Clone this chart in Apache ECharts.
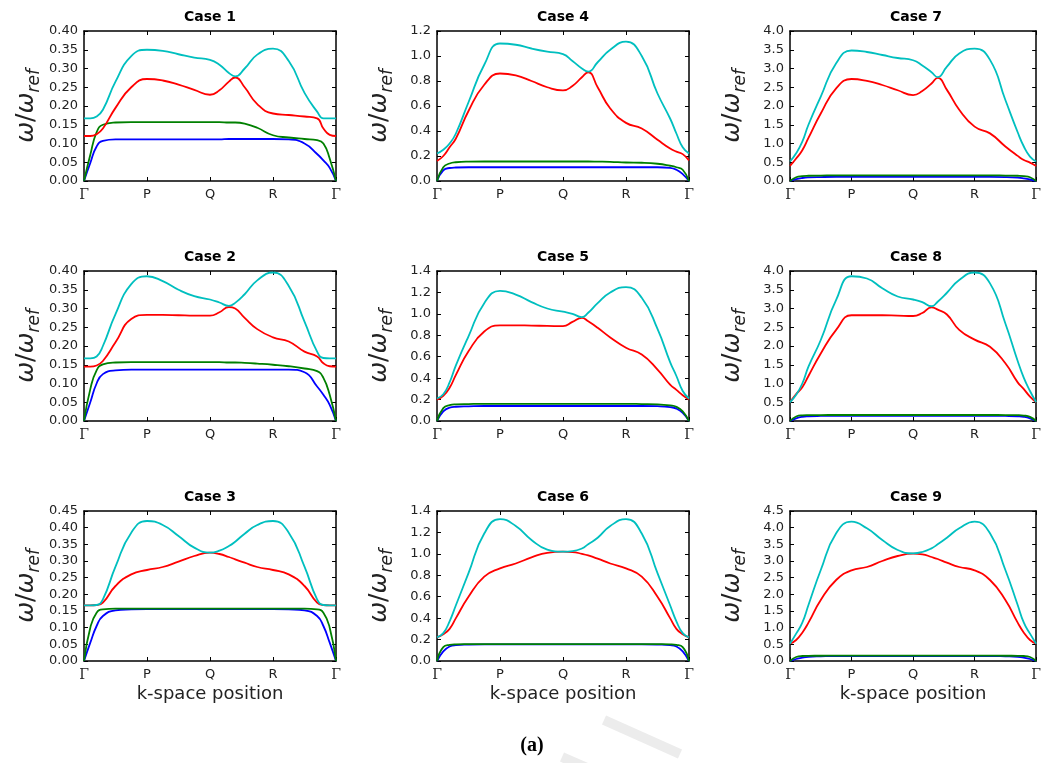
<!DOCTYPE html>
<html><head><meta charset="utf-8">
<script src="https://cdn.jsdelivr.net/npm/echarts@6/dist/echarts.min.js"></script>
<style>html,body{margin:0;padding:0;background:#fff}#chart{width:1044px;height:763px}</style>
</head><body><div id="chart"></div><script>
// ---- data ----
const K_TICKS = ['Γ', 'P', 'Q', 'R', 'Γ'];
const K_POS = [0, 0.1, 0.2, 0.3, 0.5, 0.75, 1.0, 1.25, 1.5, 1.75, 2.0, 2.15, 2.3, 2.4, 2.55, 2.75, 3.0, 3.25, 3.5, 3.7, 3.8, 3.9, 4.0];
const CASE_TITLES = ['Case 1','Case 2','Case 3','Case 4','Case 5','Case 6','Case 7','Case 8','Case 9'];
const Y_MAX = [0.4, 0.4, 0.45, 1.2, 1.4, 1.4, 4.0, 4.0, 4.5];
const Y_STEP = [0.05, 0.05, 0.05, 0.2, 0.2, 0.2, 0.5, 0.5, 0.5];
const Y_DEC = [2, 2, 2, 1, 1, 1, 1, 1, 1];
const X_NAME = 'k-space position';
const CAPTION = '(a)';

const c1Blue  = [0,0.048,0.092,0.107,0.111,0.111,0.111,0.111,0.111,0.111,0.111,0.111,0.112,0.112,0.112,0.112,0.112,0.111,0.1,0.072,0.055,0.035,0];
const c1Green = [0,0.07,0.13,0.15,0.156,0.157,0.157,0.157,0.157,0.157,0.157,0.157,0.156,0.156,0.153,0.142,0.122,0.116,0.112,0.109,0.1,0.06,0];
const c1Red   = [0.12,0.12,0.125,0.14,0.195,0.25,0.272,0.268,0.257,0.243,0.23,0.242,0.265,0.276,0.25,0.205,0.18,0.176,0.172,0.167,0.14,0.123,0.12];
const c1Cyan  = [0.167,0.167,0.172,0.19,0.265,0.333,0.35,0.347,0.338,0.329,0.323,0.31,0.288,0.279,0.3,0.337,0.353,0.32,0.235,0.185,0.167,0.167,0.167];

const c2Blue  = [0,0.05,0.1,0.125,0.135,0.137,0.137,0.137,0.137,0.137,0.137,0.137,0.137,0.137,0.137,0.137,0.137,0.137,0.13,0.092,0.07,0.043,0];
const c2Green = [0,0.085,0.135,0.151,0.156,0.157,0.157,0.157,0.157,0.157,0.157,0.157,0.156,0.156,0.155,0.153,0.15,0.146,0.14,0.133,0.115,0.07,0];
const c2Red   = [0.145,0.145,0.148,0.16,0.21,0.272,0.283,0.283,0.282,0.281,0.281,0.29,0.304,0.3,0.275,0.245,0.223,0.212,0.185,0.172,0.154,0.146,0.145];
const c2Cyan  = [0.167,0.167,0.172,0.2,0.285,0.365,0.386,0.373,0.35,0.333,0.324,0.316,0.307,0.315,0.338,0.375,0.396,0.36,0.265,0.185,0.168,0.167,0.167];

const c3Blue  = [0,0.055,0.105,0.135,0.152,0.155,0.156,0.156,0.156,0.156,0.156,0.156,0.156,0.156,0.156,0.156,0.156,0.155,0.152,0.135,0.105,0.055,0];
const c3Green = [0,0.1,0.145,0.155,0.157,0.157,0.157,0.157,0.157,0.157,0.157,0.157,0.157,0.157,0.157,0.157,0.157,0.157,0.157,0.155,0.145,0.1,0];
const c3Red   = [0.167,0.167,0.168,0.175,0.225,0.26,0.273,0.282,0.298,0.315,0.325,0.321,0.312,0.305,0.295,0.282,0.273,0.26,0.225,0.175,0.168,0.167,0.167];
const c3Cyan  = [0.167,0.167,0.168,0.185,0.283,0.385,0.42,0.408,0.375,0.34,0.325,0.331,0.345,0.358,0.382,0.408,0.42,0.385,0.283,0.185,0.168,0.167,0.167];

const c4Blue  = [0,0.085,0.104,0.108,0.11,0.11,0.11,0.11,0.11,0.11,0.11,0.11,0.11,0.11,0.11,0.11,0.11,0.11,0.11,0.105,0.09,0.055,0];
const c4Green = [0,0.11,0.14,0.15,0.155,0.156,0.156,0.156,0.156,0.156,0.156,0.156,0.156,0.156,0.155,0.153,0.148,0.146,0.138,0.122,0.11,0.09,0];
const c4Red   = [0.16,0.2,0.27,0.34,0.56,0.77,0.86,0.845,0.8,0.75,0.725,0.76,0.83,0.87,0.75,0.58,0.465,0.42,0.33,0.26,0.235,0.215,0.165];
const c4Cyan  = [0.22,0.25,0.3,0.38,0.63,0.93,1.1,1.09,1.06,1.035,1.015,0.96,0.9,0.875,0.95,1.05,1.115,1.0,0.7,0.5,0.38,0.27,0.22];

const c5Blue  = [0,0.09,0.125,0.133,0.137,0.14,0.14,0.14,0.14,0.14,0.14,0.14,0.14,0.14,0.14,0.14,0.14,0.14,0.138,0.13,0.115,0.075,0];
const c5Green = [0,0.12,0.148,0.155,0.158,0.16,0.16,0.16,0.16,0.16,0.16,0.16,0.16,0.16,0.16,0.16,0.16,0.158,0.155,0.145,0.132,0.09,0];
const c5Red   = [0.2,0.235,0.31,0.43,0.65,0.835,0.893,0.893,0.89,0.888,0.885,0.925,0.963,0.93,0.87,0.78,0.684,0.62,0.48,0.34,0.29,0.24,0.2];
const c5Cyan  = [0.21,0.25,0.36,0.52,0.79,1.1,1.215,1.18,1.11,1.05,1.02,1.0,0.97,1.01,1.1,1.2,1.25,1.15,0.86,0.55,0.42,0.28,0.21];

const c6Blue  = [0,0.09,0.135,0.148,0.153,0.155,0.155,0.155,0.155,0.155,0.155,0.155,0.155,0.155,0.155,0.155,0.155,0.155,0.153,0.148,0.135,0.09,0];
const c6Green = [0,0.13,0.15,0.155,0.157,0.158,0.158,0.158,0.158,0.158,0.158,0.158,0.158,0.158,0.158,0.158,0.158,0.158,0.157,0.155,0.15,0.13,0];
const c6Red   = [0.22,0.25,0.3,0.4,0.6,0.787,0.865,0.91,0.967,1.01,1.02,1.017,1.0,0.985,0.955,0.91,0.865,0.787,0.6,0.4,0.3,0.25,0.22];
const c6Cyan  = [0.22,0.26,0.37,0.52,0.82,1.19,1.325,1.26,1.13,1.04,1.02,1.025,1.05,1.09,1.15,1.26,1.325,1.19,0.82,0.52,0.37,0.26,0.22];

const c7Blue  = [0,0.05,0.08,0.095,0.105,0.11,0.11,0.11,0.11,0.11,0.11,0.11,0.11,0.11,0.11,0.11,0.11,0.11,0.105,0.09,0.07,0.04,0];
const c7Green = [0,0.1,0.13,0.14,0.145,0.15,0.15,0.15,0.15,0.15,0.15,0.15,0.15,0.15,0.15,0.15,0.15,0.15,0.145,0.14,0.13,0.1,0];
const c7Red   = [0.4,0.6,0.82,1.15,1.8,2.47,2.72,2.67,2.56,2.42,2.29,2.4,2.6,2.75,2.43,1.9,1.45,1.27,0.92,0.67,0.56,0.49,0.4];
const c7Cyan  = [0.52,0.74,1.05,1.5,2.25,3.14,3.48,3.44,3.36,3.28,3.22,3.08,2.9,2.77,3.05,3.4,3.53,3.23,2.16,1.3,0.92,0.65,0.52];

const c8Blue  = [0,0.07,0.11,0.125,0.135,0.14,0.14,0.14,0.14,0.14,0.14,0.14,0.14,0.14,0.14,0.14,0.14,0.14,0.135,0.125,0.11,0.07,0];
const c8Green = [0,0.12,0.15,0.155,0.158,0.16,0.16,0.16,0.16,0.16,0.16,0.16,0.16,0.16,0.16,0.16,0.16,0.16,0.158,0.155,0.145,0.11,0];
const c8Red   = [0.5,0.72,0.9,1.2,1.8,2.43,2.82,2.82,2.82,2.81,2.8,2.88,3.03,2.97,2.84,2.43,2.17,1.98,1.54,1.03,0.85,0.65,0.5];
const c8Cyan  = [0.5,0.7,1.0,1.45,2.16,3.23,3.86,3.8,3.54,3.32,3.24,3.17,3.06,3.18,3.42,3.76,3.96,3.67,2.6,1.6,1.15,0.8,0.5];

const c9Blue  = [0,0.06,0.1,0.125,0.14,0.15,0.15,0.15,0.15,0.15,0.15,0.15,0.15,0.15,0.15,0.15,0.15,0.15,0.14,0.125,0.1,0.06,0];
const c9Green = [0,0.12,0.15,0.155,0.158,0.16,0.16,0.16,0.16,0.16,0.16,0.16,0.16,0.16,0.16,0.16,0.16,0.16,0.158,0.155,0.15,0.12,0];
const c9Red   = [0.52,0.63,0.85,1.15,1.83,2.43,2.72,2.82,3.0,3.15,3.22,3.2,3.12,3.06,2.95,2.82,2.72,2.43,1.83,1.15,0.85,0.63,0.52];
const c9Cyan  = [0.52,0.82,1.15,1.68,2.73,3.83,4.18,3.98,3.63,3.33,3.23,3.27,3.38,3.5,3.7,3.98,4.18,3.83,2.73,1.68,1.15,0.82,0.52];

const CASE_SERIES = [
  [c1Blue, c1Green, c1Red, c1Cyan], [c2Blue, c2Green, c2Red, c2Cyan], [c3Blue, c3Green, c3Red, c3Cyan],
  [c4Blue, c4Green, c4Red, c4Cyan], [c5Blue, c5Green, c5Red, c5Cyan], [c6Blue, c6Green, c6Red, c6Cyan],
  [c7Blue, c7Green, c7Red, c7Cyan], [c8Blue, c8Green, c8Red, c8Cyan], [c9Blue, c9Green, c9Red, c9Cyan]
];

// ---- layout / style ----
const COLORS = ['#0000ff', '#008000', '#ff0000', '#00bfbf'];
const COL_LEFT = [84, 437, 790];
const ROW_TOP = [31, 271, 511];
const PW = 252, PH = 150;
const TXT = '#222';

const chart = echarts.init(document.getElementById('chart'), null, {renderer: 'canvas'});
const grid = [], xAxis = [], yAxis = [], series = [], graphic = [];

const frameLine = {show: true, onZero: false, lineStyle: {color: '#000', width: 1.5}};
const tickIn = {show: true, inside: true, length: 4, lineStyle: {color: '#000', width: 1}};

CASE_TITLES.forEach((title, i) => {
  const col = Math.floor(i / 3), row = i % 3;
  grid.push({left: COL_LEFT[col], top: ROW_TOP[row], width: PW, height: PH, containLabel: false});
  xAxis.push({
    type: 'value', gridIndex: i, position: 'bottom', min: 0, max: 4, interval: 1,
    axisLine: frameLine, axisTick: tickIn, splitLine: {show: false},
    axisLabel: {
      margin: 7, fontSize: 13, color: TXT, fontFamily: 'DejaVu Sans',
      formatter: v => { const t = K_TICKS[Math.round(v)]; return t === 'Γ' ? '{g|Γ}' : t; },
      rich: {g: {fontFamily: 'DejaVu Serif', fontSize: 14, color: TXT}}
    },
    name: row === 2 ? X_NAME : '', nameLocation: 'middle', nameGap: 24,
    nameTextStyle: {fontSize: 18, fontFamily: 'DejaVu Sans', color: TXT}
  });
  xAxis.push({
    type: 'value', gridIndex: i, position: 'top', min: 0, max: 4, interval: 1,
    axisLine: frameLine, axisTick: tickIn, splitLine: {show: false}, axisLabel: {show: false}
  });
  yAxis.push({
    type: 'value', gridIndex: i, position: 'left', min: 0, max: Y_MAX[i], interval: Y_STEP[i],
    axisLine: frameLine, axisTick: tickIn, splitLine: {show: false},
    axisLabel: {margin: 6, fontSize: 13, color: TXT, fontFamily: 'DejaVu Sans', formatter: v => v.toFixed(Y_DEC[i])},
    name: '{w|ω}{s|/}{w|ω}{r|ref}', nameLocation: 'middle', nameRotate: 90, nameGap: 41,
    nameTextStyle: {
      color: TXT,
      rich: {
        w: {fontFamily: 'DejaVu Sans', fontStyle: 'italic', fontSize: 25, color: TXT, lineHeight: 34, verticalAlign: 'middle'},
        s: {fontFamily: 'DejaVu Sans', fontSize: 25, color: TXT, lineHeight: 34, verticalAlign: 'middle'},
        r: {fontFamily: 'DejaVu Sans', fontStyle: 'italic', fontSize: 17, color: TXT, lineHeight: 34, verticalAlign: 'bottom'}
      }
    }
  });
  yAxis.push({
    type: 'value', gridIndex: i, position: 'right', min: 0, max: Y_MAX[i], interval: Y_STEP[i],
    axisLine: frameLine, axisTick: tickIn, splitLine: {show: false}, axisLabel: {show: false}
  });
  CASE_SERIES[i].forEach((vals, s) => {
    series.push({
      type: 'line', xAxisIndex: 2 * i, yAxisIndex: 2 * i,
      data: K_POS.map((x, k) => [x, vals[k]]),
      showSymbol: false, symbol: 'none', smooth: 0.5, silent: true,
      lineStyle: {color: COLORS[s], width: 1.8}, itemStyle: {color: COLORS[s]}, z: 2 + s
    });
  });
  graphic.push({
    type: 'text', x: COL_LEFT[col] + PW / 2, y: ROW_TOP[row] - 14,
    style: {text: title, fontSize: 14, fontWeight: 'bold', fontFamily: 'DejaVu Sans', fill: '#000', align: 'center', verticalAlign: 'middle'}
  });
});

// faint watermark bands at the bottom
graphic.push({type: 'line', shape: {x1: 604, y1: 720, x2: 680, y2: 754}, style: {stroke: '#ececec', lineWidth: 10}, z: -1});
graphic.push({type: 'line', shape: {x1: 562, y1: 757, x2: 612, y2: 779}, style: {stroke: '#ececec', lineWidth: 10}, z: -1});
graphic.push({
  type: 'text', x: 532, y: 746,
  style: {text: CAPTION, fontSize: 20, fontWeight: 'bold', fontFamily: 'Liberation Serif', fill: '#000', align: 'center', verticalAlign: 'middle'}
});

chart.setOption({
  animation: false, backgroundColor: '#fff',
  grid, xAxis, yAxis, series, graphic
});
</script></body></html>
